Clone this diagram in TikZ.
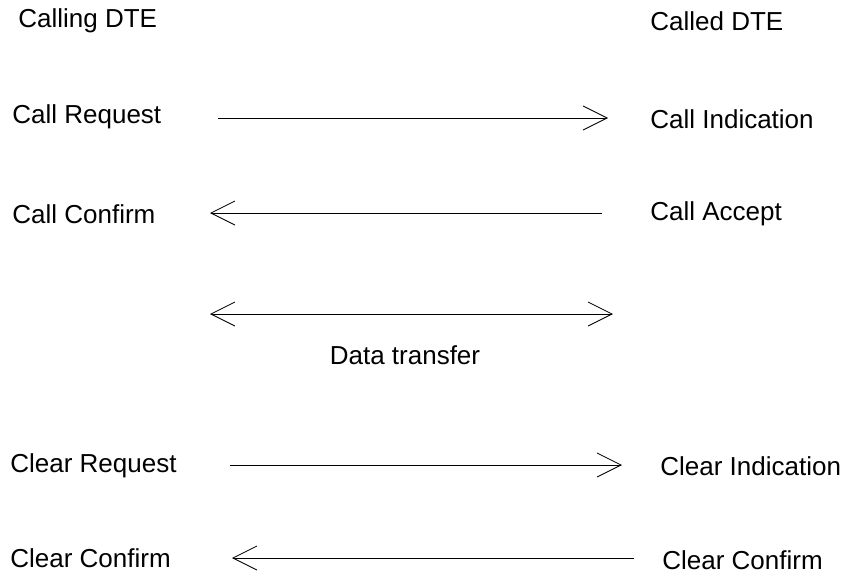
\documentclass[tikz,border=0pt]{standalone}
\usepackage{fontspec}
\setmainfont{Liberation Sans}
\usepackage{tikz}
\usetikzlibrary{arrows.meta, positioning, calc}

\begin{document}
\begin{tikzpicture}[x=0.5pt,y=-0.5pt,
    every node/.style={font=\fontsize{13}{15}\selectfont, inner sep=0pt, anchor=west},
    msg/.style={thin, -{Straight Barb[length=12pt,width=12pt]}},
    both/.style={thin, {Straight Barb[length=12pt,width=12pt]}-{Straight Barb[length=12pt,width=12pt]}},
    ]
    \useasboundingbox (0,0) rectangle (847,573);

    \node (calling) at (18,21) {Calling DTE};
    \node (called) at (650,21) {Called DTE};

    \node (creq) at (12,117) {Call Request};
    \node (cind) at (650,119) {Call Indication};
    \node (cconf) at (12,214) {Call Confirm};
    \node (cacc) at (650,214) {Call Accept};
    \node[anchor=center] (data) at (405,355) {Data transfer};
    \node (lreq) at (10,466) {Clear Request};
    \node (lind) at (660,466) {Clear Indication};
    \node (lconf) at (10,558) {Clear Confirm};
    \node (rconf) at (662,560) {Clear Confirm};

    % arrow ends
    \coordinate (a1) at (218,118);
    \coordinate (b1) at (608,118);
    \coordinate (a2) at (602,213);
    \coordinate (b2) at (210,213);
    \coordinate (d1) at (210,314);
    \coordinate (d2) at (613,314);
    \coordinate (a3) at (230,465);
    \coordinate (b3) at (622,465);
    \coordinate (a4) at (634,558);
    \coordinate (b4) at (232,558);

    \path[msg]
    (a1) edge (b1)
    (a2) edge (b2)
    (a3) edge (b3)
    (a4) edge (b4)
    ;
    \draw[both] (d1) -- (d2);
\end{tikzpicture}
\end{document}
